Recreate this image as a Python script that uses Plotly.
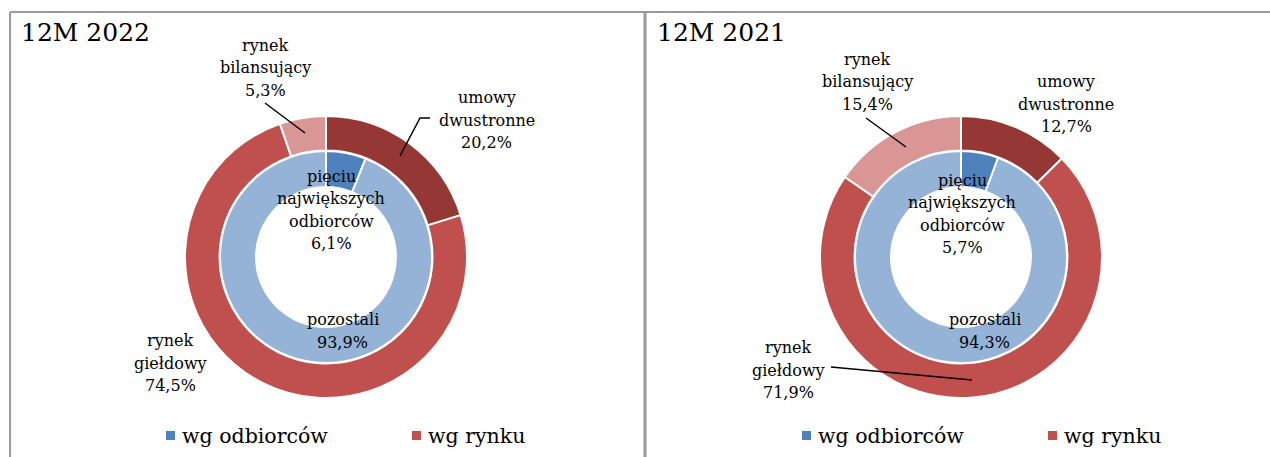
import plotly.graph_objects as go

W, H = 1270, 457

# ---- data ----
panel_titles = ["12M 2022", "12M 2021"]
inner_labels = ["pięciu<br>największych<br>odbiorców", "pozostali"]
inner_values_2022 = [6.1, 93.9]
inner_values_2021 = [5.7, 94.3]
outer_labels = ["umowy<br>dwustronne", "rynek<br>giełdowy", "rynek<br>bilansujący"]
outer_values_2022 = [20.2, 74.5, 5.3]
outer_values_2021 = [12.7, 71.9, 15.4]
legend_names = ["wg odbiorców", "wg rynku"]

inner_colors = ["#4F81BD", "#95B3D7"]
outer_colors = ["#953735", "#C0504D", "#D99694"]
FONT = "DejaVu Serif"
LINE_H = 22.3


def px(x):
    return x / W


def py(y):
    return 1 - y / H


def fmt(v):
    return f"{v:.1f}".replace(".", ",") + "%"


fig = go.Figure()

panels = [
    dict(cx=326, cy=257, inner=inner_values_2022, outer=outer_values_2022,
         title_x=19,
         outer_pos=[(487, 120), (170, 363), (265, 68)],
         inner_pos=[(331, 210), (343, 331)],
         leaders=["M 400 156 L 420 118 L 430 118", "M 265 103 L 305 133"],
         legend_x=166, legend_x2=412),
    dict(cx=961, cy=257, inner=inner_values_2021, outer=outer_values_2021,
         title_x=655,
         outer_pos=[(1066, 104), (788, 370), (867, 82)],
         inner_pos=[(962, 214), (985, 331)],
         leaders=["M 831 367 L 972 380", "M 866 118 L 906 147"],
         legend_x=802, legend_x2=1048),
]

R_OUT, R_IN = 141, 106
annotations = []
shapes = []


def add_label(text, x, y):
    lines = text.split("<br>")
    n = len(lines)
    for k, line in enumerate(lines):
        yy = y + (k - (n - 1) / 2) * LINE_H
        annotations.append(dict(text=line, x=px(x), y=py(yy), xref="paper", yref="paper",
                                xanchor="center", yanchor="middle", showarrow=False,
                                font=dict(family=FONT, size=16, color="black")))


for i, p in enumerate(panels):
    cx, cy = p["cx"], p["cy"]
    fig.add_trace(go.Pie(
        values=p["outer"], labels=[l.replace("<br>", " ") for l in outer_labels],
        marker=dict(colors=outer_colors, line=dict(color="white", width=2)),
        hole=0.755, sort=False, direction="clockwise", rotation=0,
        textinfo="none", hoverinfo="skip", showlegend=False,
        domain=dict(x=[px(cx - R_OUT), px(cx + R_OUT)], y=[py(cy + R_OUT), py(cy - R_OUT)]),
    ))
    fig.add_trace(go.Pie(
        values=p["inner"], labels=[l.replace("<br>", " ") for l in inner_labels],
        marker=dict(colors=inner_colors, line=dict(color="white", width=2)),
        hole=0.66, sort=False, direction="clockwise", rotation=0,
        textinfo="none", hoverinfo="skip", showlegend=False,
        domain=dict(x=[px(cx - R_IN), px(cx + R_IN)], y=[py(cy + R_IN), py(cy - R_IN)]),
    ))
    # title
    annotations.append(dict(text=panel_titles[i], x=px(p["title_x"]), y=py(32), xref="paper", yref="paper",
                            xanchor="left", yanchor="middle", showarrow=False,
                            font=dict(family=FONT, size=25, color="black")))
    for lab, val, (x, y) in zip(outer_labels, p["outer"], p["outer_pos"]):
        add_label(f"{lab}<br>{fmt(val)}", x, y)
    for lab, val, (x, y) in zip(inner_labels, p["inner"], p["inner_pos"]):
        add_label(f"{lab}<br>{fmt(val)}", x, y)
    for path in p["leaders"]:
        toks = path.split()
        out = []
        j = 0
        while j < len(toks):
            cmd, xx, yy = toks[j], float(toks[j + 1]), float(toks[j + 2])
            out.append(f"{cmd} {px(xx):.5f} {py(yy):.5f}")
            j += 3
        shapes.append(dict(type="path", path=" ".join(out), xref="paper", yref="paper",
                           line=dict(color="black", width=1.5)))
    # legend
    for lx, name, col in [(p["legend_x"], legend_names[0], inner_colors[0]),
                          (p["legend_x2"], legend_names[1], outer_colors[1])]:
        shapes.append(dict(type="rect", xref="paper", yref="paper",
                           x0=px(lx), x1=px(lx + 9), y0=py(440), y1=py(431),
                           fillcolor=col, line=dict(width=0)))
        annotations.append(dict(text=name, x=px(lx + 14), y=py(436), xref="paper", yref="paper",
                                xanchor="left", yanchor="middle", showarrow=False,
                                font=dict(family=FONT, size=20.5, color="black")))

# panel borders
border = dict(color="#9a9a9a", width=2)
shapes.append(dict(type="line", xref="paper", yref="paper", x0=px(10), x1=1, y0=py(12), y1=py(12), line=border))
shapes.append(dict(type="line", xref="paper", yref="paper", x0=px(10), x1=px(10), y0=0, y1=py(12), line=border))
shapes.append(dict(type="line", xref="paper", yref="paper", x0=px(645), x1=px(645), y0=0, y1=py(12),
                   line=dict(color="#9a9a9a", width=3)))

fig.update_layout(
    width=W, height=H,
    margin=dict(l=0, r=0, t=0, b=0),
    paper_bgcolor="white", plot_bgcolor="white",
    annotations=annotations, shapes=shapes,
    showlegend=False,
)

fig.write_html("out.html", config={"displayModeBar": False},
               post_script="document.body.style.margin='0';document.body.style.overflow='hidden';")
